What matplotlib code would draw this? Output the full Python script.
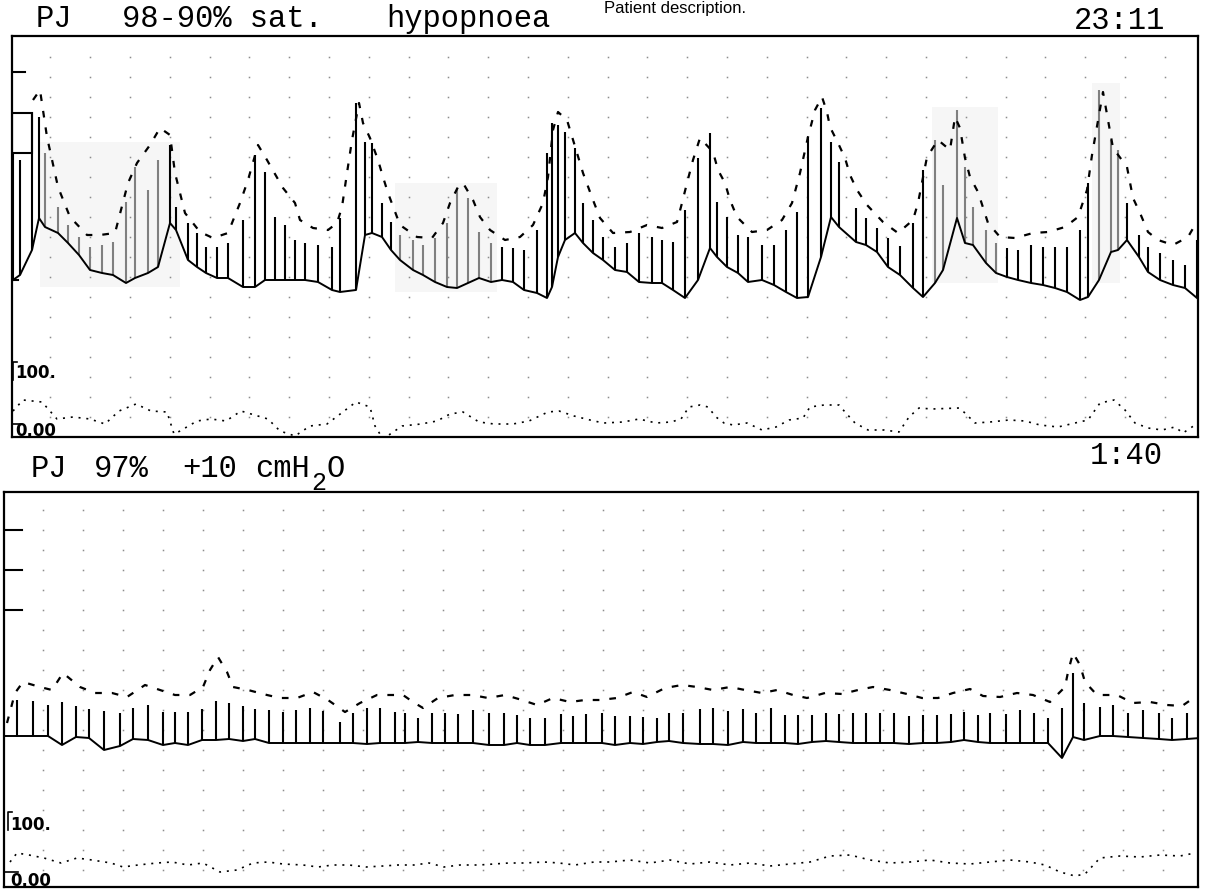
import numpy as np
import matplotlib.pyplot as plt
from matplotlib.patches import Rectangle

W, H = 1205, 896

# ---- upper record (23:11), values in screen units of the chart recorder
top_beat_x = [13, 20, 32, 39, 45, 58, 68, 79, 90, 102, 113, 126, 135, 148, 158, 170, 176, 188, 197, 206,
              217, 228, 243, 255, 265, 275, 285, 295, 305, 318, 332, 340, 356, 365, 372, 382, 391, 400, 413, 423,
              435, 447, 457, 468, 479, 491, 502, 513, 524, 537, 547, 552, 558, 565, 575, 583, 593, 603, 615, 627,
              639, 652, 662, 673, 685, 698, 710, 717, 727, 738, 748, 762, 774, 786, 797, 808, 821, 831, 839, 856,
              866, 877, 888, 900, 913, 923, 935, 943, 957, 965, 973, 986, 996, 1007, 1018, 1031, 1043, 1055, 1067, 1080,
              1088, 1099, 1111, 1118, 1127, 1139, 1148, 1160, 1173, 1185, 1197]
top_sys = [153, 160, 112, 117, 153, 207, 225, 237, 247, 245, 242, 202, 167, 190, 160, 145, 207, 223, 233, 247,
           247, 243, 220, 155, 172, 217, 225, 240, 243, 245, 247, 218, 103, 142, 143, 203, 222, 235, 240, 245,
           238, 223, 188, 198, 232, 243, 247, 248, 250, 230, 153, 123, 125, 132, 148, 203, 220, 237, 247, 243,
           233, 237, 240, 242, 210, 158, 133, 202, 217, 235, 237, 245, 245, 230, 212, 137, 108, 142, 162, 208,
           218, 228, 238, 246, 223, 170, 140, 185, 110, 167, 207, 230, 243, 248, 250, 245, 247, 247, 247, 230,
           183, 90, 140, 150, 203, 235, 247, 253, 260, 265, 240]
top_dia = [280, 275, 250, 218, 227, 233, 243, 255, 270, 273, 275, 283, 278, 273, 267, 223, 230, 260, 267, 273,
           278, 278, 287, 287, 280, 280, 280, 280, 280, 282, 290, 292, 290, 235, 233, 237, 250, 260, 270, 275,
           282, 287, 288, 283, 278, 282, 280, 282, 290, 293, 298, 287, 257, 240, 233, 243, 253, 260, 270, 272,
           282, 283, 283, 290, 298, 280, 248, 257, 267, 273, 282, 280, 285, 292, 298, 297, 257, 217, 227, 242,
           245, 252, 267, 275, 288, 297, 283, 270, 218, 243, 245, 263, 273, 277, 280, 283, 285, 288, 292, 300,
           297, 280, 252, 250, 240, 257, 272, 280, 285, 288, 298]
top_env_x = [33, 40, 47, 58, 70, 87, 100, 115, 128, 137, 150, 160, 170, 175, 185, 200, 213, 228, 240, 248,
             258, 267, 283, 295, 300, 313, 328, 337, 342, 347, 352, 359, 363, 370, 378, 383, 388, 400, 417, 432,
             443, 450, 458, 463, 473, 480, 490, 505, 520, 533, 543, 548, 553, 558, 567, 577, 583, 593, 600, 613,
             630, 647, 662, 677, 682, 687, 693, 700, 713, 718, 725, 730, 737, 752, 767, 782, 792, 800, 808, 815,
             822, 827, 830, 838, 845, 850, 857, 867, 883, 898, 913, 918, 927, 938, 950, 955, 960, 965, 970, 978,
             988, 1000, 1015, 1033, 1048, 1065, 1078, 1087, 1092, 1103, 1108, 1113, 1127, 1133, 1140, 1148, 1158, 1173, 1188, 1195]
top_env_y = [100, 90, 137, 187, 217, 235, 235, 233, 183, 163, 145, 128, 135, 173, 213, 232, 238, 233, 203, 180,
             145, 160, 188, 203, 220, 228, 230, 223, 207, 173, 140, 103, 123, 138, 160, 177, 193, 225, 237, 238,
             223, 203, 187, 183, 200, 217, 230, 240, 237, 225, 203, 177, 130, 112, 120, 153, 173, 200, 218, 233,
             232, 225, 228, 222, 203, 183, 160, 138, 152, 170, 183, 200, 217, 232, 230, 220, 203, 173, 137, 110,
             97, 112, 127, 143, 158, 175, 190, 205, 222, 233, 220, 203, 157, 140, 150, 117, 128, 158, 177, 192,
             223, 237, 238, 233, 232, 227, 217, 190, 155, 92, 120, 148, 167, 198, 213, 232, 240, 245, 237, 225]
top_resp_x = [13, 23, 42, 57, 73, 90, 105, 119, 136, 151, 167, 174, 180, 197, 211, 226, 241, 268, 280, 295,
              310, 327, 356, 370, 375, 383, 402, 421, 437, 450, 463, 479, 494, 513, 529, 548, 559, 574, 594, 604,
              623, 639, 656, 671, 681, 689, 700, 708, 716, 724, 733, 747, 762, 776, 789, 803, 810, 824, 839, 845,
              855, 868, 884, 899, 909, 919, 932, 959, 965, 975, 990, 1009, 1025, 1040, 1058, 1075, 1088, 1100, 1114, 1125,
              1135, 1148, 1162, 1175, 1183, 1195]
top_resp_y = [411, 400, 402, 419, 417, 419, 424, 411, 404, 411, 412, 434, 431, 421, 419, 421, 411, 419, 431, 436,
              426, 424, 402, 407, 426, 439, 426, 424, 421, 414, 412, 422, 424, 424, 421, 412, 411, 416, 421, 423,
              422, 419, 423, 422, 419, 407, 405, 407, 417, 423, 425, 423, 430, 427, 420, 418, 407, 405, 405, 412,
              423, 430, 430, 432, 417, 408, 409, 408, 413, 423, 422, 420, 421, 425, 427, 423, 420, 403, 400, 410,
              423, 428, 430, 427, 433, 425]

# ---- lower record (1:40, +10 cmH2O)
bot_beat_x = [17, 33, 48, 62, 76, 89, 104, 120, 133, 148, 163, 175, 188, 202, 216, 229, 243, 255, 269, 283,
              296, 310, 323, 340, 353, 367, 380, 395, 405, 418, 432, 445, 458, 473, 489, 504, 517, 530, 545, 561,
              573, 586, 602, 615, 630, 643, 657, 669, 683, 700, 713, 728, 743, 756, 771, 785, 798, 812, 826, 839,
              853, 866, 880, 894, 909, 923, 937, 951, 964, 978, 990, 1006, 1020, 1034, 1048, 1062, 1073, 1084, 1100, 1113,
              1128, 1143, 1159, 1172, 1187, 1200]
bot_sys = [700, 701, 705, 702, 706, 709, 711, 713, 708, 705, 712, 712, 712, 709, 701, 703, 706, 709, 710, 712,
           710, 708, 711, 722, 713, 708, 708, 712, 713, 718, 713, 713, 714, 710, 713, 713, 715, 718, 718, 714,
           716, 714, 713, 716, 716, 717, 718, 713, 713, 709, 708, 711, 709, 713, 708, 715, 715, 715, 713, 714,
           713, 713, 713, 713, 716, 715, 715, 714, 712, 715, 713, 714, 710, 713, 718, 708, 673, 703, 707, 705,
           713, 710, 713, 718, 713, 708]
bot_dia = [736, 736, 736, 745, 737, 738, 750, 746, 739, 740, 745, 743, 745, 740, 740, 739, 741, 739, 743, 743,
           743, 743, 743, 743, 743, 744, 743, 743, 743, 742, 743, 743, 743, 743, 745, 745, 743, 745, 745, 743,
           743, 743, 743, 745, 743, 744, 742, 741, 743, 744, 744, 745, 742, 743, 743, 743, 744, 742, 741, 742,
           743, 743, 743, 743, 744, 743, 743, 742, 740, 742, 743, 743, 743, 743, 743, 758, 737, 740, 736, 736,
           737, 738, 739, 740, 739, 738]
bot_env_x = [7, 15, 23, 40, 52, 63, 80, 95, 112, 127, 145, 160, 175, 190, 203, 210, 218, 227, 233, 248,
             267, 280, 297, 313, 328, 345, 360, 377, 393, 403, 413, 423, 438, 455, 472, 488, 505, 522, 537, 553,
             570, 585, 600, 617, 633, 647, 665, 682, 697, 713, 730, 745, 762, 777, 793, 807, 825, 842, 858, 873,
             890, 907, 922, 938, 953, 970, 983, 1000, 1017, 1033, 1050, 1065, 1068, 1073, 1080, 1085, 1097, 1117, 1133, 1150,
             1167, 1182, 1195]
bot_env_y = [723, 693, 682, 687, 690, 673, 687, 693, 693, 697, 685, 690, 695, 695, 687, 670, 657, 672, 687, 690,
             695, 698, 698, 692, 700, 712, 703, 695, 695, 695, 702, 708, 698, 695, 695, 698, 695, 700, 705, 698,
             702, 700, 700, 698, 692, 697, 688, 685, 687, 690, 687, 690, 693, 690, 695, 698, 693, 694, 690, 687,
             690, 694, 698, 698, 693, 689, 696, 697, 693, 695, 702, 687, 672, 653, 665, 682, 695, 695, 703, 702,
             705, 706, 697]
bot_resp_x = [10, 17, 29, 44, 61, 77, 92, 111, 123, 138, 157, 172, 188, 203, 220, 237, 253, 268, 283, 303,
              318, 333, 349, 366, 383, 398, 414, 429, 444, 460, 479, 494, 509, 525, 544, 559, 575, 594, 610, 630,
              650, 670, 690, 710, 730, 750, 770, 790, 810, 830, 850, 870, 890, 910, 930, 950, 970, 990, 1010, 1030,
              1045, 1060, 1075, 1085, 1100, 1120, 1140, 1160, 1180, 1195]
bot_resp_y = [862, 853, 855, 858, 863, 858, 860, 863, 867, 865, 863, 862, 865, 863, 872, 870, 863, 862, 864, 865,
              867, 865, 865, 867, 866, 865, 865, 863, 867, 865, 865, 864, 863, 863, 862, 863, 865, 862, 862, 860,
              863, 860, 864, 862, 865, 863, 866, 864, 862, 856, 855, 860, 863, 862, 860, 863, 864, 862, 860, 862,
              865, 872, 876, 874, 858, 856, 857, 855, 856, 853]

# faded (lighter) stretches of the scanned trace
top_faded = [(40, 162), (395, 497), (930, 1000), (1090, 1122)]
top_patches = [(40, 142, 140, 145), (395, 183, 102, 109), (932, 107, 66, 176), (1092, 83, 28, 200)]

fig = plt.figure(figsize=(W / 100, H / 100), dpi=100)
fig.patch.set_facecolor('white')


def panel(x0, y0, x1, y1):
    ax = fig.add_axes([x0 / W, 1 - y1 / H, (x1 - x0) / W, (y1 - y0) / H])
    ax.set_xlim(x0, x1)
    ax.set_ylim(y1, y0)
    ax.set_xticks([])
    ax.set_yticks([])
    for s in ax.spines.values():
        s.set_linewidth(1.6)
        s.set_color('black')
    return ax


def draw_record(ax, bx, bs, bd, ex, ey, rx, ry, faded, gx, gy):
    # dot grid of the recorder paper
    GX, GY = np.meshgrid(gx, gy)
    ax.plot(GX.ravel(), GY.ravel(), ls='none', marker='s', ms=1.1, color='0.55', mew=0)
    bx = np.array(bx)
    cols = ['0.5' if any(a <= x <= b for a, b in faded) else 'black' for x in bx]
    ax.vlines(bx, bd, bs, colors=cols, lw=1.5)
    ax.plot(bx, bd, color='black', lw=1.4)
    ax.plot(ex, ey, color='black', lw=1.6, dashes=(3, 4.5))
    ax.plot(rx, ry, color='black', lw=1.2, dashes=(1.2, 3.5))


# upper panel
ax1 = panel(12, 36, 1198, 437)
for (px, py, pw, ph) in top_patches:
    ax1.add_patch(Rectangle((px, py), pw, ph, color='0.965', lw=0, zorder=0))
draw_record(ax1, top_beat_x, top_sys, top_dia, top_env_x, top_env_y, top_resp_x, top_resp_y,
            top_faded, 10.6 + 39.8 * np.arange(1, 30), 37 + 20 * np.arange(1, 20))
ax1.plot([12, 25], [72, 72], color='black', lw=1.5)
ax1.add_patch(Rectangle((12, 113), 20, 40, fill=False, lw=1.5, ec='black'))
ax1.plot([12, 18], [280, 280], color='black', lw=1.5)
ax1.plot([13, 13, 17], [380, 362, 362], color='black', lw=1.2)
ax1.plot([12, 20], [424, 424], color='black', lw=1.2)

# lower panel
ax2 = panel(4, 492, 1198, 887)
draw_record(ax2, bot_beat_x, bot_sys, bot_dia, bot_env_x, bot_env_y, bot_resp_x, bot_resp_y,
            [], 3 + 40 * np.arange(1, 30), 510 + 20 * np.arange(0, 19))
ax2.plot([4, 17], [736, 736], color='black', lw=1.4)
for yt in [530, 570, 610]:
    ax2.plot([4, 22], [yt, yt], color='black', lw=1.5)
ax2.plot([8, 8, 12], [830, 812, 812], color='black', lw=1.2)
ax2.plot([4, 18], [872, 872], color='black', lw=1.2)

# text layer in screen coordinates
ov = fig.add_axes([0, 0, 1, 1], facecolor='none')
ov.set_xlim(0, W)
ov.set_ylim(H, 0)
ov.axis('off')

mono = dict(family=['Liberation Mono', 'DejaVu Sans Mono'], fontsize=22, color='black', va='baseline')
ov.text(36, 27, 'PJ', **mono)
ov.text(122, 27, '98-90% sat.', **mono)
ov.text(386, 27, 'hypopnoea', **mono)
ov.text(1165, 29, '23:11', ha='right', **mono)
ov.text(604, 13, 'Patient description.', family=['Liberation Sans', 'DejaVu Sans'], fontsize=12,
        color='black', va='baseline')

ov.text(31, 477, 'PJ', **mono)
ov.text(94, 477, '97%', **mono)
ov.text(182, 477, '+10', **mono)
ov.text(255, 477, 'cmH', **mono)
ov.text(311, 490, '2', **dict(mono, fontsize=18))
ov.text(327, 477, 'O', **mono)
ov.text(1163, 464, '1:40', ha='right', **mono)

small = dict(family=['Liberation Sans Narrow', 'DejaVu Sans'], fontsize=12, fontweight='bold',
             color='black', va='baseline')
ov.text(15, 378, '100.', **small)
ov.text(15, 436, '0.00', **small)
ov.text(10, 830, '100.', **small)
ov.text(10, 886, '0.00', **small)

fig.savefig('out.png', dpi=100, facecolor='white')
